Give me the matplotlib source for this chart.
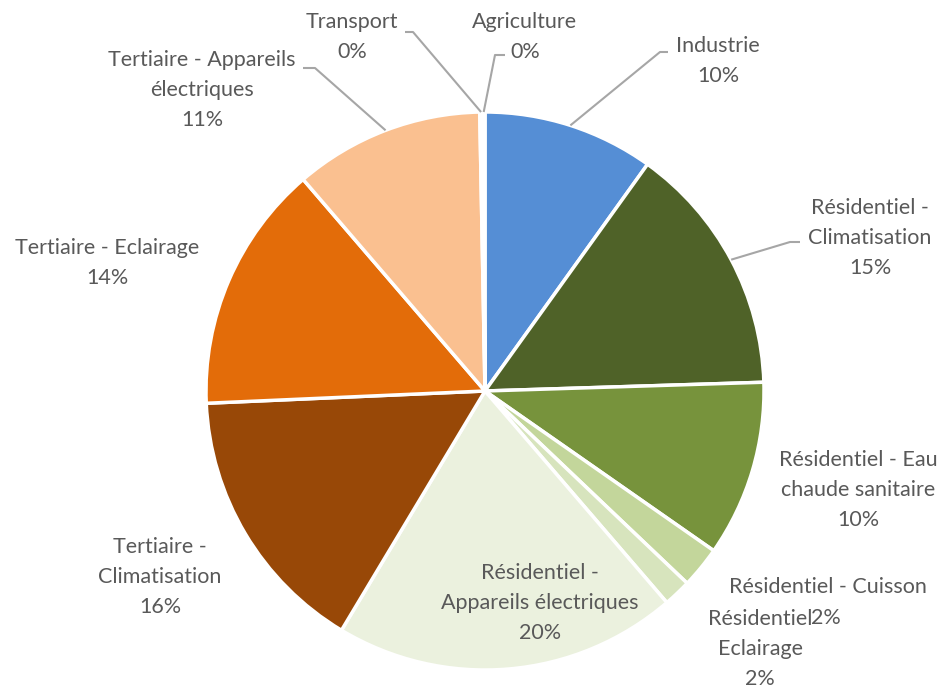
import numpy as np
import matplotlib.pyplot as plt

W, H = 945, 688

# consumption shares (%) by sector / end use, clockwise from 12 o'clock
sectors = ["Industrie", "Résidentiel - Climatisation", "Résidentiel - Eau chaude sanitaire",
           "Résidentiel - Cuisson", "Résidentiel Eclairage", "Résidentiel - Appareils électriques",
           "Tertiaire - Climatisation", "Tertiaire - Eclairage", "Tertiaire - Appareils électriques",
           "Transport", "Agriculture"]
shares = [9.9, 14.6, 10.2, 2.4, 1.6, 19.9, 15.7, 14.4, 11.0, 0.15, 0.15]
colors = ["#558ED5", "#4F6228", "#77933C", "#C3D69B", "#D7E4BD", "#EBF1DE",
          "#984807", "#E36C09", "#FAC090", "#A5A5A5", "#FFC000"]

# label text as laid out (name lines), percentage appended below
label_lines = ["Industrie", "Résidentiel -\nClimatisation", "Résidentiel - Eau\nchaude sanitaire",
               "Résidentiel - Cuisson", "Résidentiel\nEclairage", "Résidentiel -\nAppareils électriques",
               "Tertiaire -\nClimatisation", "Tertiaire - Eclairage", "Tertiaire - Appareils\nélectriques",
               "Transport", "Agriculture"]

# label centres in pixels (x, y from top)
label_pos = [(718, 61), (870, 238), (858, 490), (828, 587), (760, 649), (540, 603),
             (160, 577), (107, 263), (202, 90), (352, 37), (525, 37)]

# leader lines (text side points, pie edge point added from wedge angle)
leaders = {0: [(668, 52), (660, 52)],
           1: [(800, 242), (790, 242)],
           8: [(303, 68), (315, 68)],
           9: [(405, 32), (413, 32)],
           10: [(505, 55), (495, 55)]}

cx, cy, r = 485, 391, 279
fsize = 15.5
txt_color = "#595959"


def px(x, y):
    return x, H - y


fig = plt.figure(figsize=(W / 100, H / 100), dpi=100)
ax = fig.add_axes([0, 0, 1, 1])

wedges, _ = ax.pie(shares, colors=colors, startangle=90, counterclock=False,
                   center=px(cx, cy), radius=r, frame=True,
                   wedgeprops=dict(edgecolor="white", linewidth=2.5))
ax.set_xlim(0, W)
ax.set_ylim(0, H)
ax.set_aspect("equal")
ax.axis("off")

for i, (name, val) in enumerate(zip(label_lines, shares)):
    text = f"{name}\n{round(val):d}%"
    if i == 3:
        text = name
    x, y = label_pos[i]
    ax.text(*px(x, y), text, ha="center", va="center", fontsize=fsize,
            family="Lato", color=txt_color, linespacing=1.6)

# the Cuisson percentage sits off to the side
ax.text(*px(826, 618), f"{round(shares[3]):d}%", ha="center", va="center",
        fontsize=fsize, family="Lato", color=txt_color)

for i, pts in leaders.items():
    w = wedges[i]
    mid = np.deg2rad((w.theta1 + w.theta2) / 2)
    ex = w.center[0] + r * np.cos(mid)
    ey = w.center[1] + r * np.sin(mid)
    xs = [px(*p)[0] for p in pts] + [ex]
    ys = [px(*p)[1] for p in pts] + [ey]
    ax.plot(xs, ys, color="#A6A6A6", lw=1.5, solid_capstyle="butt")

fig.savefig("out.png", dpi=100)
